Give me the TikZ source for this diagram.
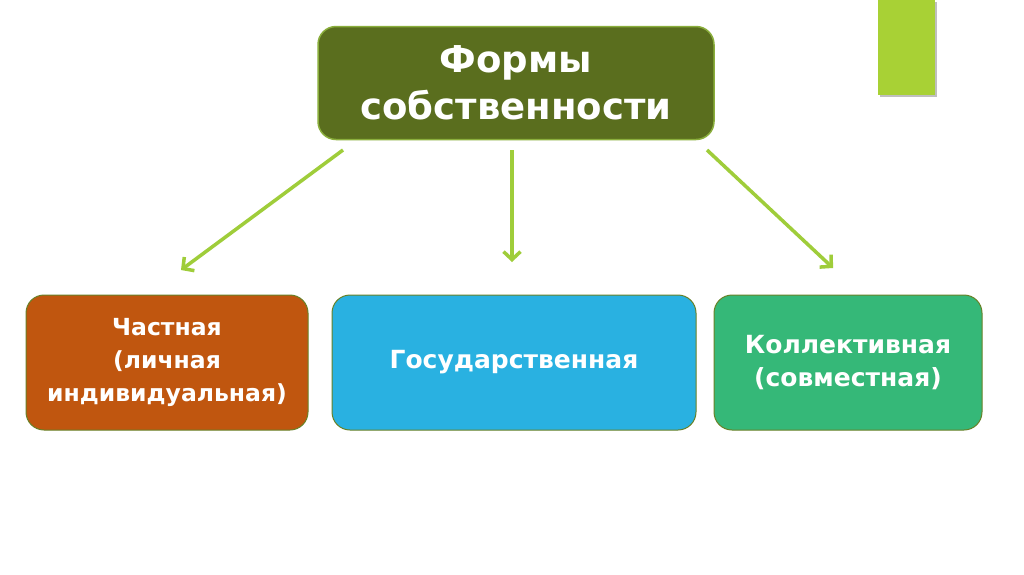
\documentclass[tikz,border=0pt]{standalone}
\usepackage{fontspec}
\setmainfont{DejaVu Sans}
\usetikzlibrary{calc, positioning}
\usetikzlibrary{arrows.meta}

\definecolor{olivebox}{HTML}{5A6E1E}
\definecolor{oliveline}{HTML}{8AAE3C}
\definecolor{rustbox}{HTML}{C0560F}
\definecolor{skybox}{HTML}{29B1E1}
\definecolor{mintbox}{HTML}{35B878}
\definecolor{limearrow}{HTML}{9FCD3A}
\definecolor{limebar}{HTML}{A8D135}

\tikzset{
  formbox/.style={draw=oliveline, line width=1.5pt, rounded corners=18pt,
    text=white, align=center, inner sep=0pt},
  kindbox/.style={formbox, line width=1pt, draw=olivebox!70!oliveline,
    minimum height=135, font=\fontsize{25}{33}\selectfont\bfseries},
  limearr/.style={draw=limearrow, line width=3.5pt,
    -{Straight Barb[length=8pt, width=17pt, line width=3.5pt]}}
}

\begin{document}
\begin{tikzpicture}[x=1pt, y=-1pt]
\useasboundingbox[fill=white] (0,0) rectangle (1024,574);

% decorative bar in the corner
\fill[black!25] (880,2) rectangle (937,97);
\fill[limebar] (878,0) rectangle (935,95);

\node[formbox, fill=olivebox, minimum width=396, minimum height=113,
  font=\fontsize{37}{47}\selectfont\bfseries] (forms) at (516,83)
  {Формы\\собственности};

\node[kindbox, fill=rustbox, minimum width=282,
  font=\fontsize{23.5}{33}\selectfont\bfseries] (private) at (167,362.5)
  {Частная\\(личная\\индивидуальная)};
\node[kindbox, fill=skybox, minimum width=364] (state) at (514,362.5)
  {Государственная};
\node[kindbox, fill=mintbox, minimum width=268] (common) at (848,362.5)
  {Коллективная\\(совместная)};

\coordinate (leftS) at (343,150);
\coordinate (leftE) at (181,270);
\coordinate (midS) at (512,150);
\coordinate (midE) at (512,262);
\coordinate (rightS) at (707,150);
\coordinate (rightE) at (833,268);

\draw[limearr] (leftS) -- (leftE);
\draw[limearr] (midS) -- (midE);
\draw[limearr] (rightS) -- (rightE);
\end{tikzpicture}
\end{document}
